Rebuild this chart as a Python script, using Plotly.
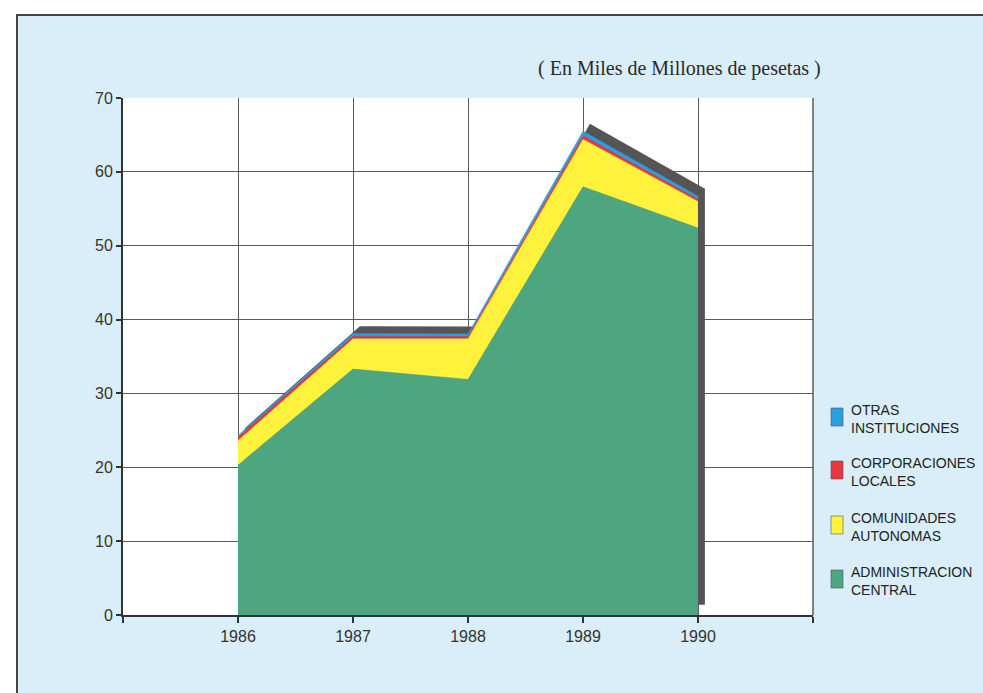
import plotly.graph_objects as go

years = [1986, 1987, 1988, 1989, 1990]
admin_central = [20.3, 33.3, 31.9, 58.0, 52.4]
comunidades = [3.3, 4.1, 5.5, 6.4, 3.6]
corporaciones = [0.5, 0.35, 0.3, 0.5, 0.3]
otras = [0.2, 0.35, 0.35, 0.6, 0.4]

names = ["ADMINISTRACION<br>CENTRAL", "COMUNIDADES<br>AUTONOMAS",
         "CORPORACIONES<br>LOCALES", "OTRAS<br>INSTITUCIONES"]
series = [admin_central, comunidades, corporaciones, otras]
colors = ["#4da67f", "#fff23c", "#e8353f", "#2b9fe0"]

x_ticks = [1985, 1986, 1987, 1988, 1989, 1990, 1991]
x_ticktext = ["", "1986", "1987", "1988", "1989", "1990", ""]
y_ticks = [0, 10, 20, 30, 40, 50, 60, 70]

title_text = "( En Miles de Millones de pesetas )"

# 3D shadow offset (style)
SDX, SDY, SBOT = 0.06, 1.0, 1.4

totals = [sum(v) for v in zip(*series)]

fig = go.Figure()

# shadow polygon behind the stack
sx = [y + SDX for y in years] + [years[-1] + SDX, years[0] + SDX]
sy = [t + SDY for t in totals] + [SBOT, SBOT]
fig.add_trace(go.Scatter(x=sx, y=sy, fill="toself", fillcolor="#555555",
                         mode="lines", line=dict(width=0, color="#555555"),
                         showlegend=False, hoverinfo="skip"))

for name, vals, col in zip(names, series, colors):
    fig.add_trace(go.Scatter(x=years, y=vals, stackgroup="s", mode="lines",
                             line=dict(width=0.5, color=col), fillcolor=col,
                             name=name.replace("<br>", " "), showlegend=False))

W, H = 983, 693
L, R, T, B = 123, 170, 98, 78
pw, ph = W - L - R, H - T - B

def px_x(x):
    return (x - L) / pw

def px_y(y):
    return (H - B - y) / ph

fig.add_shape(type="rect", xref="paper", yref="paper",
              x0=px_x(17), x1=px_x(995), y0=px_y(705), y1=px_y(15),
              fillcolor="#d9eef9", line=dict(color="#444", width=2), layer="below")
fig.add_shape(type="rect", xref="paper", yref="paper", x0=0, x1=1, y0=0, y1=1,
              fillcolor="white", line=dict(width=0), layer="below")
# right border of the plot frame
fig.add_shape(type="line", xref="paper", yref="paper", x0=1, x1=1, y0=0, y1=1,
              line=dict(color="#5a5a5a", width=1.5))

fig.add_annotation(text=title_text, xref="paper", yref="paper",
                   x=px_x(823), y=px_y(68), xanchor="right", yanchor="middle",
                   showarrow=False,
                   font=dict(family="Liberation Serif", size=20, color="#2a2a2a"))

# legend (top item first): swatch + two-line label
legend_top = [408, 461, 516, 570]
for top, name, col in zip(legend_top, list(reversed(names)), list(reversed(colors))):
    fig.add_shape(type="rect", xref="paper", yref="paper",
                  x0=px_x(831), x1=px_x(843), y0=px_y(top + 18), y1=px_y(top),
                  fillcolor=col, line=dict(color="#555", width=0.6))
    fig.add_annotation(text=name, xref="paper", yref="paper",
                       x=px_x(849), y=px_y(top + 11), xanchor="left",
                       yanchor="middle", align="left", showarrow=False,
                       font=dict(family="Liberation Sans", size=14, color="#222"))

fig.update_layout(
    width=W, height=H,
    margin=dict(l=L, r=R, t=T, b=B),
    paper_bgcolor="white", plot_bgcolor="rgba(0,0,0,0)",
    font=dict(family="Liberation Sans", size=16, color="#333"),
    showlegend=False,
)
fig.update_xaxes(range=[1985, 1991], tickvals=x_ticks, ticktext=x_ticktext,
                 showgrid=True, gridcolor="#5a5a5a", gridwidth=1,
                 showline=True, linecolor="#333", linewidth=2,
                 ticks="outside", ticklen=6, tickcolor="#333", tickwidth=2,
                 zeroline=False)
fig.update_yaxes(range=[0, 70], tickvals=y_ticks,
                 showgrid=True, gridcolor="#5a5a5a", gridwidth=1,
                 showline=True, linecolor="#333", linewidth=2,
                 ticks="outside", ticklen=5, tickcolor="#333", tickwidth=2,
                 zeroline=False)

fig.write_html("out.html", config={"displayModeBar": False},
               post_script="document.body.style.margin='0';document.body.style.overflow='hidden';")
